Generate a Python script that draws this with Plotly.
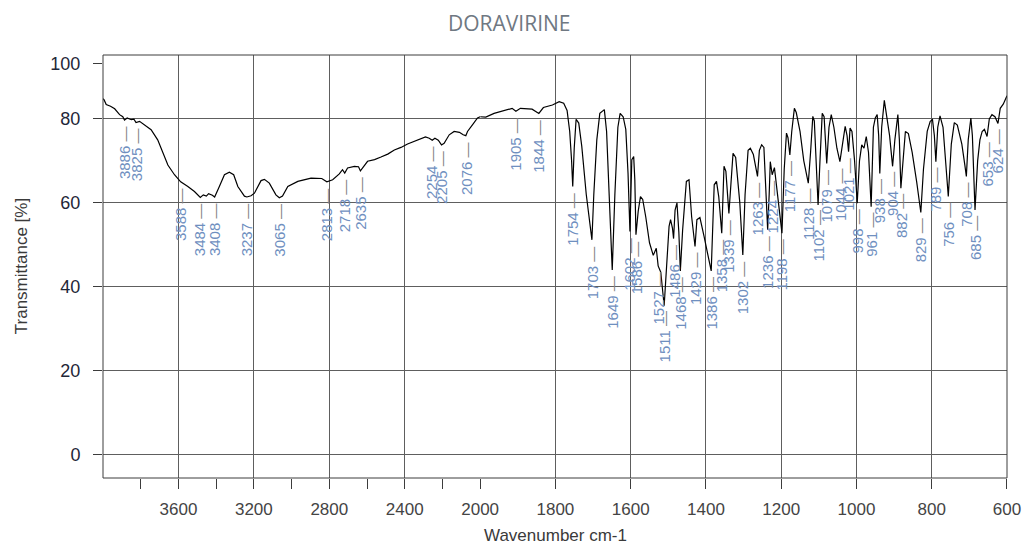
import plotly.graph_objects as go

# FT-IR spectrum of doravirine: wavenumber (cm-1) vs transmittance (%)
# 4000-2000 cm-1 region (compressed scale)
wn_high = [4000, 3994, 3983, 3960, 3938, 3912, 3895, 3886, 3872, 3850, 3836, 3825,
           3806, 3780, 3745, 3710, 3683, 3656, 3621, 3588, 3550, 3515, 3484, 3468,
           3452, 3440, 3420, 3408, 3383, 3356, 3330, 3307, 3285, 3250, 3237, 3215,
           3197, 3162, 3144, 3118, 3083, 3065, 3048, 3020, 2967, 2897, 2840, 2813,
           2782, 2747, 2730, 2718, 2703, 2667, 2645, 2635, 2597, 2560, 2526, 2490,
           2455, 2420, 2385, 2350, 2314, 2290, 2270, 2254, 2240, 2222, 2205, 2191,
           2164, 2138, 2110, 2090, 2076, 2067, 2040, 2014, 2000]
tr_high = [84.8, 84.5, 83.4, 83.0, 82.4, 81.0, 80.5, 79.7, 80.2, 79.8, 79.9, 79.1,
           79.4, 78.6, 77.4, 75.0, 71.8, 69.0, 66.7, 65.0, 63.9, 62.7, 61.3, 61.9,
           61.6, 62.2, 61.8, 61.4, 63.9, 66.7, 67.3, 66.7, 63.9, 61.6, 61.4, 61.7,
           62.3, 65.3, 65.6, 64.7, 61.9, 61.2, 61.6, 63.9, 65.1, 65.9, 65.8, 65.0,
           65.5, 66.9, 67.9, 67.1, 68.3, 68.7, 68.6, 67.6, 69.9, 70.3, 70.9, 71.6,
           72.6, 73.2, 74.0, 74.6, 75.4, 75.7, 75.4, 74.9, 75.4, 74.9, 73.8, 74.2,
           76.2, 77.0, 76.8, 76.2, 76.0, 77.0, 78.6, 80.2, 80.5]

# 2000-600 cm-1 region (expanded scale)
wn_low = [2000, 1985, 1963, 1936, 1915, 1905, 1893, 1862, 1844, 1832, 1808, 1790,
          1778, 1769, 1762, 1757, 1754, 1750, 1745, 1738, 1730, 1718, 1708, 1703,
          1698, 1690, 1682, 1675, 1670, 1664, 1656, 1649, 1642, 1634, 1628, 1620,
          1613, 1607, 1602, 1597, 1592, 1589, 1586, 1580, 1574, 1568, 1560, 1550,
          1540, 1532, 1527, 1520, 1511, 1505, 1498, 1494, 1489, 1486, 1482, 1477,
          1472, 1468, 1462, 1452, 1445, 1438, 1429, 1424, 1416, 1405, 1395, 1386,
          1378, 1372, 1366, 1358, 1352, 1347, 1339, 1328, 1321, 1310, 1302, 1296,
          1288, 1282, 1274, 1268, 1263, 1258, 1252, 1246, 1241, 1236, 1232, 1229,
          1226, 1224, 1218, 1210, 1198, 1192, 1186, 1182, 1177, 1172, 1165, 1160,
          1150, 1140, 1128, 1122, 1116, 1112, 1106, 1102, 1097, 1091, 1086, 1079,
          1073, 1067, 1060, 1052, 1044, 1036, 1030, 1025, 1021, 1017, 1012, 1005,
          998, 992, 986, 980, 974, 968, 961, 955, 950, 945, 941, 938,
          933, 926, 922, 912, 904, 898, 890, 886, 882, 877, 870, 862,
          852, 840, 829, 822, 812, 804, 798, 793, 789, 784, 778, 770,
          763, 756, 748, 740, 732, 720, 712, 708, 703, 696, 692, 685,
          678, 672, 666, 660, 653, 647, 640, 632, 624, 618, 610, 600]
tr_low = [80.5, 80.4, 81.3, 82.0, 82.5, 81.8, 82.5, 82.3, 81.3, 82.7, 83.3, 84.1,
          83.7, 82.0, 77.0, 70.0, 63.9, 73.0, 79.9, 79.0, 73.5, 62.0, 54.0, 51.2,
          62.0, 75.0, 81.3, 81.8, 82.2, 77.0, 60.0, 44.0, 62.0, 78.0, 81.3, 80.5,
          77.5, 67.0, 53.2, 70.3, 71.0, 65.5, 52.4, 58.0, 61.5, 60.8, 56.7, 50.5,
          47.5, 49.2, 45.0, 43.5, 35.5, 44.0, 54.4, 56.0, 54.0, 51.5, 58.3, 60.0,
          53.0, 43.8, 53.5, 65.1, 65.5, 56.7, 49.6, 56.0, 56.5, 52.0, 48.0, 43.8,
          64.3, 65.1, 61.5, 52.8, 68.7, 67.5, 57.5, 71.8, 70.8, 60.0, 47.6, 62.0,
          72.5, 73.0, 71.5, 69.0, 66.3, 72.5, 73.8, 73.2, 65.0, 53.6, 62.0, 69.8,
          68.0, 66.7, 68.4, 62.0, 52.8, 68.0, 76.6, 75.5, 71.4, 77.0, 82.5, 81.5,
          77.0, 70.0, 64.7, 72.0, 80.6, 79.5, 68.0, 59.5, 70.0, 81.3, 80.5, 69.4,
          78.0, 81.0, 78.0, 73.0, 69.8, 75.0, 78.2, 76.0, 72.2, 77.8, 77.0, 70.0,
          59.9, 70.0, 73.8, 73.0, 75.8, 72.0, 59.1, 78.0, 80.2, 81.0, 76.0, 67.0,
          78.0, 84.4, 82.0, 76.0, 68.7, 75.0, 81.0, 75.0, 63.5, 70.0, 77.0, 76.5,
          72.0, 65.0, 57.7, 68.0, 77.0, 79.4, 79.8, 76.0, 69.8, 78.0, 80.7, 78.0,
          69.0, 61.5, 74.0, 79.1, 78.5, 74.0, 69.0, 66.3, 75.0, 80.2, 76.0, 58.3,
          70.0, 75.0, 77.0, 77.5, 75.8, 80.0, 81.0, 80.5, 78.9, 82.5, 83.5, 85.5]

# Picked band positions (cm-1)
peaks_high = [3886, 3825, 3588, 3484, 3408, 3237, 3065, 2813, 2718, 2635,
              2254, 2205, 2076]
peaks_low = [1905, 1844, 1754, 1703, 1649, 1602, 1586, 1527, 1511, 1486, 1468,
             1429, 1386, 1358, 1339, 1302, 1263, 1236, 1224, 1198, 1177, 1128,
             1102, 1079, 1044, 1021, 998, 961, 938, 904, 882, 829, 789, 756,
             708, 685, 653, 624]

# Axis ticks
x_major_high = [3600, 3200, 2800, 2400, 2000]
x_minor_high = [3800, 3400, 3000, 2600, 2200]
x_major_low = [1800, 1600, 1400, 1200, 1000, 800, 600]
y_grid_ticks = [0, 20, 40, 60, 80]
y_top_tick = 93.1
y_top_text = "100"

title_text = "DORAVIRINE"
x_title = "Wavenumber cm-1"
y_title = "Transmittance [%]"

LINE = "#000000"
GRID = "#5e5e5e"
FRAME = "#3c3c3c"
PEAK_COL = "#6f8fbf"
DASH_COL = "#858585"
FONT = "Liberation Sans, Arial, sans-serif"

split = 0.4172  # fraction of plot width given to 4000-2000 cm-1
y_range = [-5.5, 95.2]

fig = go.Figure()
fig.add_trace(go.Scatter(x=wn_high, y=tr_high, mode="lines", xaxis="x", yaxis="y",
                         line=dict(color=LINE, width=1.2), showlegend=False,
                         hoverinfo="x+y"))
fig.add_trace(go.Scatter(x=wn_low, y=tr_low, mode="lines", xaxis="x2", yaxis="y",
                         line=dict(color=LINE, width=1.2), showlegend=False,
                         hoverinfo="x+y"))
# carrier for the left-side "100" tick axis
fig.add_trace(go.Scatter(x=[None], y=[None], xaxis="x", yaxis="y2",
                         showlegend=False, hoverinfo="skip"))

lookup = dict(zip(wn_high, tr_high))
lookup.update(dict(zip(wn_low, tr_low)))

annotations = []
for w in peaks_high + peaks_low:
    annotations.append(dict(
        x=w, y=lookup[w], xref="x" if w >= 2000 else "x2", yref="y",
        text=f"{w} <span style='color:{DASH_COL}'>—</span>",
        textangle=-90, xanchor="center", yanchor="top", yshift=-4,
        showarrow=False, font=dict(family=FONT, size=15, color=PEAK_COL)))

annotations.append(dict(
    x=(509 - 103) / 904, y=1 + (55 - 22.5) / 423, xref="paper", yref="paper",
    text=title_text, showarrow=False, xanchor="center", yanchor="middle",
    font=dict(family="Open Sans, Noto Sans, sans-serif", size=21, color="#6f7882")))
annotations.append(dict(
    x=0.5, y=-(535 - 478) / 423, xref="paper", yref="paper", text=x_title,
    showarrow=False, xanchor="center", yanchor="middle",
    font=dict(family=FONT, size=17, color="#3a3a3a")))
annotations.append(dict(
    x=-(103 - 21.7) / 904, y=0.5, xref="paper", yref="paper", text=y_title,
    textangle=-90, showarrow=False, xanchor="center", yanchor="middle",
    font=dict(family=FONT, size=17, color="#3a3a3a")))

xcommon = dict(ticks="outside", ticklen=10, tickcolor=FRAME, tickwidth=1,
               showgrid=True, gridcolor=GRID, gridwidth=1, zeroline=False,
               showline=False, anchor="y", ticklabelstandoff=6, automargin=False,
               tickfont=dict(family=FONT, size=17, color="#444444"))

fig.update_layout(
    width=1026, height=544, autosize=False,
    margin=dict(l=103, r=19, t=55, b=66),
    paper_bgcolor="white", plot_bgcolor="white",
    xaxis=dict(domain=[0, split], range=[4000, 2000], tickmode="array",
               tickvals=x_major_high,
               minor=dict(tickvals=x_minor_high, ticks="outside", ticklen=10,
                          tickcolor=FRAME, showgrid=False),
               **xcommon),
    xaxis2=dict(domain=[split, 1], range=[2000, 600], tickmode="array",
                tickvals=x_major_low, **xcommon),
    yaxis=dict(range=y_range, tickmode="array", tickvals=y_grid_ticks,
               ticks="outside", ticklen=9, tickcolor=FRAME, showgrid=True,
               gridcolor=GRID, zeroline=False, showline=False, anchor="x",
               ticklabelstandoff=9, automargin=False,
               tickfont=dict(family=FONT, size=18, color="#1f2738")),
    yaxis2=dict(range=y_range, overlaying="y", side="left", anchor="x",
                tickmode="array", tickvals=[y_top_tick], ticktext=[y_top_text],
                ticks="outside", ticklen=9, tickcolor=FRAME, showgrid=False,
                zeroline=False, showline=False, ticklabelstandoff=9,
                automargin=False,
                tickfont=dict(family=FONT, size=18, color="#1f2738")),
    shapes=[dict(type="rect", xref="paper", yref="paper", x0=0, x1=1, y0=0, y1=1,
                 line=dict(color=FRAME, width=1), fillcolor="rgba(0,0,0,0)")],
    annotations=annotations,
)

fig.write_html("out.html", config={"responsive": False})
